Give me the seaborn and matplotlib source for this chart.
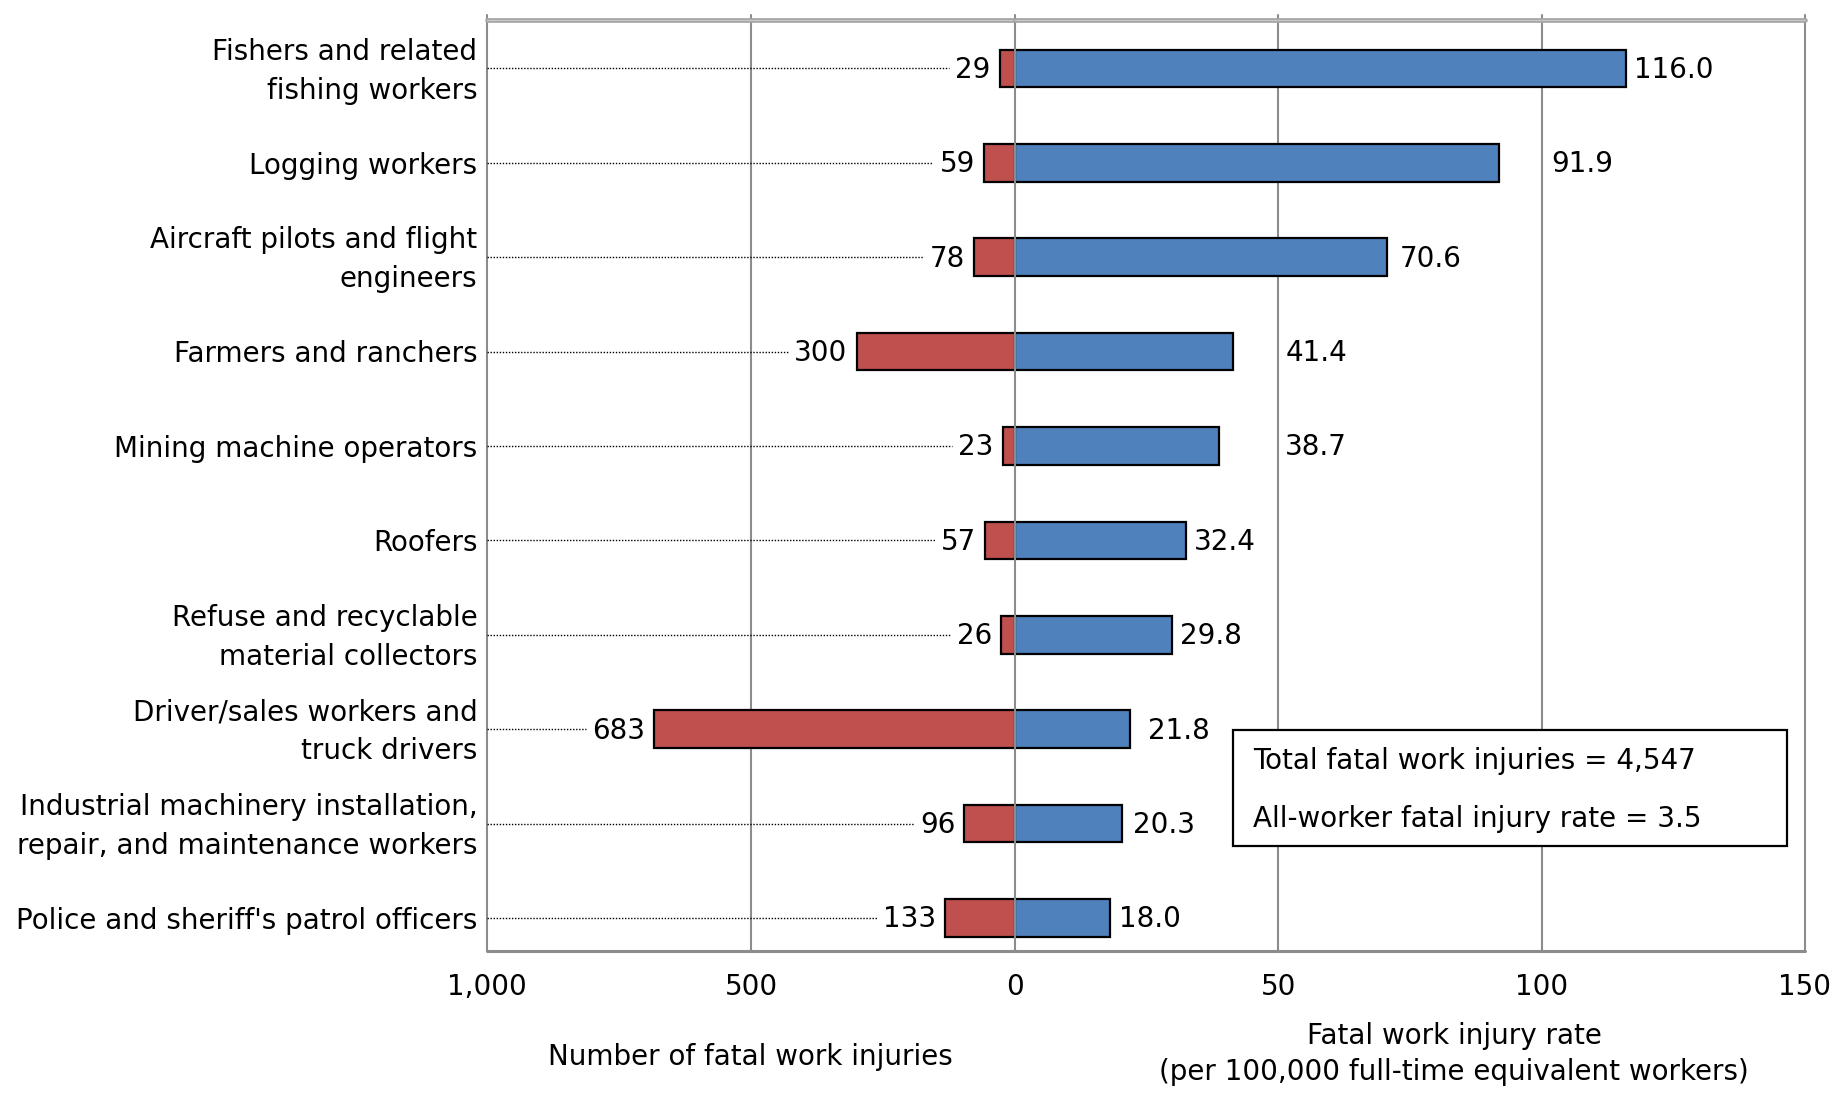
import matplotlib
matplotlib.use("Agg")
import matplotlib.pyplot as plt
import seaborn as sns
import pandas as pd
import numpy as np

# ---------------- data ----------------
occupations = [
    "Fishers and related\nfishing workers",
    "Logging workers",
    "Aircraft pilots and flight\nengineers",
    "Farmers and ranchers",
    "Mining machine operators",
    "Roofers",
    "Refuse and recyclable\nmaterial collectors",
    "Driver/sales workers and\ntruck drivers",
    "Industrial machinery installation,\nrepair, and maintenance workers",
    "Police and sheriff's patrol officers",
]
fatal_counts = [29, 59, 78, 300, 23, 57, 26, 683, 96, 133]
fatal_rates = [116.0, 91.9, 70.6, 41.4, 38.7, 32.4, 29.8, 21.8, 20.3, 18.0]
count_ticks = [1000, 500]
count_tick_labels = ["1,000", "500"]
rate_ticks = [0, 50, 100, 150]
rate_tick_labels = ["0", "50", "100", "150"]
total_text = "Total fatal work injuries = 4,547"
rate_text = "All-worker fatal injury rate = 3.5"

# label offsets (pixels) for the rate labels as positioned in the original
rate_label_offsets_px = [8, 52, 13, 53, 66, 8, 8, 18, 11, 9]

RED = "#C0504D"
BLUE = "#4F81BD"
GRID = "#8C8C8C"
FONT = 20

sns.set_theme(style="white")
plt.rcParams["font.family"] = ["DejaVu Sans"]
plt.rcParams["text.color"] = "black"
plt.rcParams["xtick.color"] = "black"

W, H = 1849, 1093
fig = plt.figure(figsize=(W / 100, H / 100), dpi=100)

x_left, x_mid, x_right = 487 / W, 1015 / W, 1805 / W
y_bot, y_top = 1 - 951 / H, 1 - 20 / H
axL = fig.add_axes([x_left, y_bot, x_mid - x_left, y_top - y_bot])
axR = fig.add_axes([x_mid, y_bot, x_right - x_mid, y_top - y_bot])
ax_h_px = 951 - 20

df = pd.DataFrame({"occ": occupations, "count": fatal_counts, "rate": fatal_rates})

sns.barplot(data=df, x="count", y="occ", ax=axL, color=RED, edgecolor="black",
            linewidth=1.6, width=0.4, saturation=1, zorder=3)
sns.barplot(data=df, x="rate", y="occ", ax=axR, color=BLUE, edgecolor="black",
            linewidth=1.6, width=0.4, saturation=1, zorder=3)

ylim = (9.35, -0.513)
for ax in (axL, axR):
    ax.set_ylim(*ylim)
    ax.set_xlabel("")
    ax.set_ylabel("")
    ax.set_facecolor("none")
    for s in ax.spines.values():
        s.set_visible(False)
    ax.tick_params(axis="y", length=0, labelleft=False)
    ax.tick_params(axis="x", length=9, width=1.5, color=GRID, direction="out",
                   labelsize=FONT, pad=7, labelcolor="black")

axL.set_xlim(1000, 0)
axR.set_xlim(0, 150)
axL.set_xticks(count_ticks)
axL.set_xticklabels(count_tick_labels)
axR.set_xticks(rate_ticks)
axR.set_xticklabels(rate_tick_labels)

# gridlines (vertical), extending slightly above the top frame line
ytop_ext = 1 + 5 / ax_h_px
for v in [1000, 500]:
    axL.axvline(v, ymin=0, ymax=ytop_ext, color=GRID, lw=1.5, zorder=1, clip_on=False)
for v in [0, 50, 100, 150]:
    axR.axvline(v, ymin=0, ymax=ytop_ext, color=GRID, lw=1.5,
                zorder=1 if v else 4, clip_on=False)

# top (double) and bottom frame lines
for ax in (axL, axR):
    ax.axhline(ylim[1], color="#A6A6A6", lw=3.4, zorder=5, clip_on=False)
    ax.axhline(ylim[1], color="#C8C8C8", lw=0.8, zorder=6, clip_on=False)
    ax.axhline(ylim[0], color=GRID, lw=2.2, zorder=5, clip_on=False)

# category labels
for i, occ in enumerate(occupations):
    axL.annotate(occ, xy=(1000, i), xytext=(-7, -2), textcoords="offset points",
                 ha="right", va="center", fontsize=FONT, linespacing=1.5,
                 annotation_clip=False)

# count labels
count_texts = []
for i, c in enumerate(fatal_counts):
    t = axL.annotate(f"{c:,}", xy=(c, i), xytext=(-6.5, -1), textcoords="offset points",
                     ha="right", va="center", fontsize=FONT)
    count_texts.append(t)

# rate labels
for i, (r, off) in enumerate(zip(fatal_rates, rate_label_offsets_px)):
    axR.annotate(f"{r:.1f}", xy=(r, i), xytext=(off * 0.72, -1),
                 textcoords="offset points", ha="left", va="center", fontsize=FONT)

# dotted leader lines from the axis to the count labels
fig.canvas.draw()
renderer = fig.canvas.get_renderer()
inv = axL.transData.inverted()
for i, t in enumerate(count_texts):
    bb = t.get_window_extent(renderer)
    x_end = inv.transform((bb.x0 - 6, 0))[0]
    axL.plot([1000, x_end], [i, i], color="black", lw=1.0,
             linestyle=(0, (1, 1.2)), zorder=2, clip_on=False)

# axis titles
fig.text(750 / W, 1 - 1057 / H, "Number of fatal work injuries",
         ha="center", va="center", fontsize=FONT)
fig.text(1454 / W, 1 - 1054 / H,
         "Fatal work injury rate\n(per 100,000 full-time equivalent workers)",
         ha="center", va="center", fontsize=FONT, linespacing=1.4)

# summary box
box = plt.Rectangle((1233 / W, 1 - 846 / H), (1787 - 1233) / W, (846 - 730) / H,
                    transform=fig.transFigure, facecolor="white", edgecolor="black",
                    lw=1.6, zorder=10)
fig.add_artist(box)
fig.text(1253 / W, 1 - 761 / H, total_text, ha="left", va="center",
         fontsize=FONT, zorder=11)
fig.text(1253 / W, 1 - 819 / H, rate_text, ha="left", va="center",
         fontsize=FONT, zorder=11)

fig.savefig("out.png", dpi=100)
